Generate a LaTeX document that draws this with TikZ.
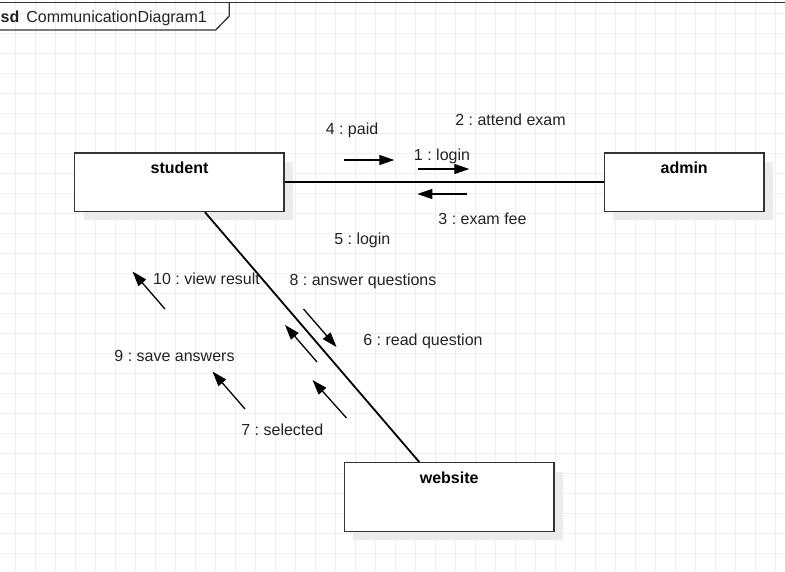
\documentclass[tikz,border=0pt]{standalone}
\usepackage{fontspec}
\setmainfont{Liberation Sans}
\frenchspacing
\usetikzlibrary{arrows.meta}
\definecolor{gridc}{HTML}{EEEEEE}
\definecolor{shadowc}{HTML}{EBEBEB}
\definecolor{linec}{HTML}{333333}
\definecolor{textc}{HTML}{222222}
\tikzset{
  objbox/.style={draw=linec, line width=1.4pt, fill=white, inner sep=0pt},
  objshadow/.style={fill=shadowc, draw=none, inner sep=0pt},
  objlabel/.style={anchor=base, font=\fontsize{16}{19}\selectfont\bfseries, text=black, inner sep=0pt},
  msglabel/.style={anchor=base, font=\fontsize{16}{19}\selectfont\frenchspacing, text=textc, inner sep=0pt},
  link/.style={draw=black, line width=1.8pt},
  msg/.style={draw=black, line width=1.3pt, -{Triangle[length=15pt,width=10pt]}},
}
\begin{document}
\begin{tikzpicture}[x=1pt,y=-1pt]
\useasboundingbox (0,0) rectangle (785,571);
% grid
\foreach \gx in {15.5,35.5,...,785} {\draw[gridc, line width=1pt] (\gx,0) -- (\gx,571);}
\foreach \gy in {13.5,33.5,...,571} {\draw[gridc, line width=1pt] (0,\gy) -- (785,\gy);}
% frame
\coordinate (fl) at (0,2.5);
\coordinate (fr) at (785,2.5);
\coordinate (tabtop) at (229.3,2.5);
\coordinate (tabcut) at (229.3,16);
\coordinate (tabcorner) at (215.7,30);
\coordinate (tableft) at (0,30);
\draw[draw=linec, line width=1.6pt] (fl) -- (fr);
\draw[draw=linec, line width=1.3pt] (tabtop) -- (tabcut) -- (tabcorner) -- (tableft);
\node[anchor=base west, inner sep=0pt, font=\fontsize{16}{19}\selectfont, text=textc] (title) at (0.5,22) {\textbf{sd}\hspace{7pt}CommunicationDiagram1};
% shadows
\node[objshadow, minimum width=209.5pt, minimum height=58.5pt] (studentsh) at (188.25,191.2) {};
\node[objshadow, minimum width=159.7pt, minimum height=58.5pt] (adminsh) at (693.2,191.2) {};
\node[objshadow, minimum width=209.7pt, minimum height=68.6pt] (websitesh) at (458.2,506) {};
% boxes
\node[objbox, minimum width=209.5pt, minimum height=58.5pt] (student) at (179.25,182.2) {};
\node[objbox, minimum width=159.7pt, minimum height=58.5pt] (admin) at (684.2,182.2) {};
\node[objbox, minimum width=209.7pt, minimum height=68.6pt] (website) at (449.2,497) {};
% connectors
\draw[link] (student) -- (admin);
\draw[link] (student) -- (website);
\node[objlabel] (studentlbl) at (179.5,173.3) {student};
\node[objlabel] (adminlbl) at (684.2,173.3) {admin};
\node[objlabel] (websitelbl) at (449.2,483.3) {website};
% message arrows
\coordinate (a4s) at (343.7,160); \coordinate (a4e) at (394.3,160);
\coordinate (a1s) at (418.3,169); \coordinate (a1e) at (469.3,169);
\coordinate (a3s) at (467.3,194); \coordinate (a3e) at (417.3,194);
\coordinate (a10s) at (165,309); \coordinate (a10e) at (132.5,271.5);
\coordinate (a8s) at (303.5,309); \coordinate (a8e) at (336.5,347);
\coordinate (a6s) at (317,362); \coordinate (a6e) at (285,325);
\coordinate (a9s) at (245,409); \coordinate (a9e) at (212.5,371.5);
\coordinate (a7s) at (346.5,418); \coordinate (a7e) at (312.5,380);
\draw[msg] (a4s) -- (a4e);
\draw[msg] (a1s) -- (a1e);
\draw[msg] (a3s) -- (a3e);
\draw[msg] (a10s) -- (a10e);
\draw[msg] (a8s) -- (a8e);
\draw[msg] (a6s) -- (a6e);
\draw[msg] (a9s) -- (a9e);
\draw[msg] (a7s) -- (a7e);
% message labels
\node[msglabel] (l4) at (352,134) {4 : paid};
\node[msglabel] (l2) at (510.5,125.5) {2 : attend exam};
\node[msglabel] (l1) at (442,160) {1 : login};
\node[msglabel] (l3) at (482.5,224) {3 : exam fee};
\node[msglabel] (l5) at (362.3,244) {5 : login};
\node[msglabel] (l10) at (206.5,284) {10 : view result};
\node[msglabel] (l8) at (363,285) {8 : answer questions};
\node[msglabel] (l6) at (423,345) {6 : read question};
\node[msglabel] (l9) at (174.5,361.7) {9 : save answers};
\node[msglabel] (l7) at (282.3,435) {7 : selected};
\end{tikzpicture}
\end{document}
